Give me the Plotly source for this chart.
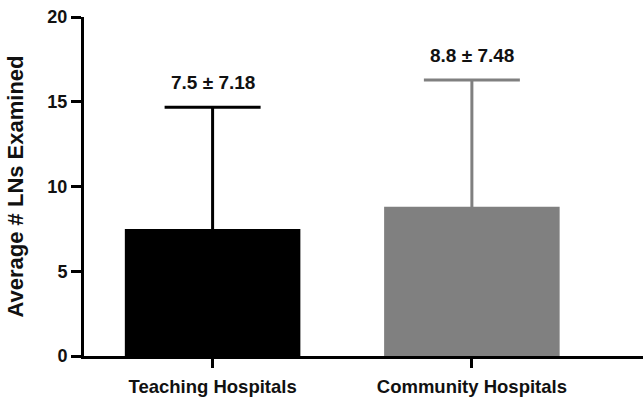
import plotly.graph_objects as go

categories = ["Teaching Hospitals", "Community Hospitals"]
means = [7.5, 8.8]
sds = [7.18, 7.48]
colors = ["#000000", "#808080"]
y_ticks = [0, 5, 10, 15, 20]

FONT = "Liberation Sans, Arial, Helvetica, sans-serif"

fig = go.Figure()
for cat, m, s, c in zip(categories, means, sds, colors):
    fig.add_trace(go.Bar(
        x=[cat], y=[m],
        marker=dict(color=c, line=dict(width=0)),
        width=0.677,
        # lower whisker kept short so its cap sits hidden inside the bar
        error_y=dict(type="data", symmetric=False, array=[s], arrayminus=[0.3],
                     color=c, thickness=3, width=48),
        showlegend=False,
    ))
    fig.add_annotation(
        x=cat, y=m + s, text=f"{m} ± {s}", showarrow=False,
        yanchor="bottom", yshift=12,
        font=dict(family=FONT, size=19, color="#111111", weight="bold"),
    )

fig.update_layout(
    width=643, height=397,
    margin=dict(l=84, r=0, t=17, b=41),
    plot_bgcolor="white", paper_bgcolor="white",
)
fig.update_xaxes(
    range=[-0.496, 1.66],
    showline=True, linecolor="black", linewidth=3,
    ticks="outside", ticklen=9, tickwidth=3, tickcolor="black",
    ticklabelstandoff=3,
    tickfont=dict(family=FONT, size=18.5, color="#111111", weight="bold"),
    showgrid=False, zeroline=False,
)
fig.update_yaxes(
    range=[0, 20], tickvals=y_ticks,
    showline=True, linecolor="black", linewidth=3,
    ticks="outside", ticklen=10, tickwidth=3, tickcolor="black",
    tickfont=dict(family=FONT, size=18, color="#111111", weight="bold"),
    title=dict(text="Average # LNs Examined", standoff=18,
               font=dict(family=FONT, size=22, color="#111111", weight="bold")),
    showgrid=False, zeroline=False,
)

fig.write_html("out.html")
